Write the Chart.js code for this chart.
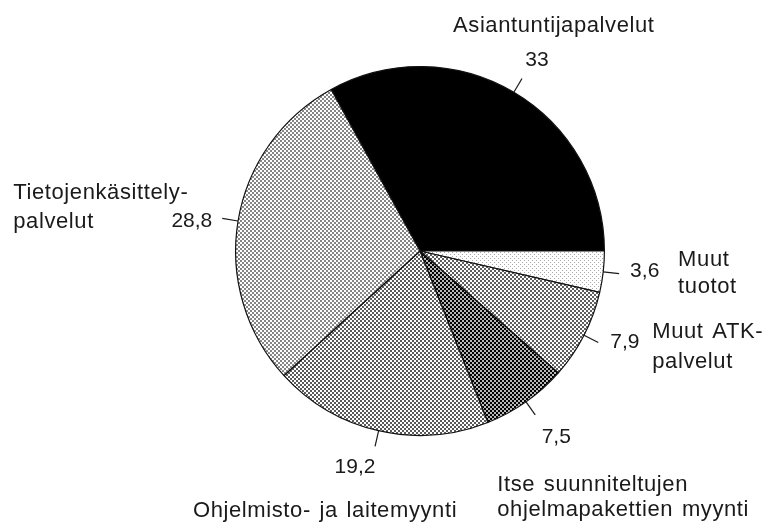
<!DOCTYPE html>
<html>
<head>
<meta charset="utf-8">
<script src="https://cdn.jsdelivr.net/npm/chart.js@4"></script>
<style>
  html, body { margin: 0; padding: 0; background: #fff; }
  #wrap { width: 765px; height: 526px; position: relative; }
</style>
</head>
<body>
<div id="wrap"><canvas id="chart"></canvas></div>
<script>
// Liikevaihdon jakauma, %
const tuotteet = [
  ['Asiantuntijapalvelut'],
  ['Muut', 'tuotot'],
  ['Muut ATK-', 'palvelut'],
  ['Itse suunniteltujen', 'ohjelmapakettien myynti'],
  ['Ohjelmisto- ja laitemyynti'],
  ['Tietojenkäsittely-', 'palvelut'],
];
const osuudet = [33, 3.6, 7.9, 7.5, 19.2, 28.8];

// rasterikuviot sektoreille
function rasteri(pohja, muste, koko) {
  const c = document.createElement('canvas');
  c.width = 4; c.height = 4;
  const g = c.getContext('2d');
  g.fillStyle = pohja;
  g.fillRect(0, 0, 4, 4);
  g.fillStyle = muste;
  g.fillRect(0, 0, koko, koko);
  g.fillRect(2, 2, koko, koko);
  return g.createPattern(c, 'repeat');
}

const tayttot = [
  '#000000',
  rasteri('#ffffff', '#a8a8a8', 1),
  rasteri('#ffffff', '#5e5e5e', 2),
  rasteri('#b8b8b8', '#000000', 2),
  rasteri('#ffffff', '#5a5a5a', 2),
  rasteri('#ffffff', '#858585', 2),
];

// tekstien sijoittelu suhteessa viivan päähän: [dx, dy, tasaus]
const sijoittelu = [
  { arvo: [15, -18, 'center'], nimi: [-69, -53, 'left'], rivi: 28 },
  { arvo: [11, -2, 'left'],    nimi: [59, -14, 'left'],  rivi: 27 },
  { arvo: [12, 0, 'left'],     nimi: [54, -11, 'left'],  rivi: 30 },
  { arvo: [21, 22, 'center'],  nimi: [-38, 70, 'left'],  rivi: 25 },
  { arvo: [-20, 21, 'center'], nimi: [-50, 65, 'center'], rivi: 28 },
  { arvo: [-10, 3, 'right'],   nimi: [-209, -25, 'left'], rivi: 29 },
];

const selitteet = {
  id: 'selitteet',
  afterDatasetsDraw(chart) {
    const ctx = chart.ctx;
    const meta = chart.getDatasetMeta(0);
    ctx.save();
    ctx.fillStyle = '#1a1a1a';
    ctx.strokeStyle = '#1a1a1a';
    ctx.lineWidth = 1.2;
    ctx.textBaseline = 'middle';
    meta.data.forEach((arc, i) => {
      const { x, y, startAngle, endAngle, outerRadius } =
        arc.getProps(['x', 'y', 'startAngle', 'endAngle', 'outerRadius'], true);
      const kulma = (startAngle + endAngle) / 2;
      const x0 = x + Math.cos(kulma) * outerRadius;
      const y0 = y + Math.sin(kulma) * outerRadius;
      const x1 = x + Math.cos(kulma) * (outerRadius + 16);
      const y1 = y + Math.sin(kulma) * (outerRadius + 16);
      ctx.beginPath();
      ctx.moveTo(x0, y0);
      ctx.lineTo(x1, y1);
      ctx.stroke();

      const s = sijoittelu[i];
      ctx.font = '21px "Liberation Sans", Arial, sans-serif';
      ctx.letterSpacing = '0px';
      ctx.wordSpacing = '0px';
      ctx.textAlign = s.arvo[2];
      ctx.fillText(String(osuudet[i]).replace('.', ','), x1 + s.arvo[0], y1 + s.arvo[1]);

      ctx.font = '22px "Liberation Sans", Arial, sans-serif';
      ctx.letterSpacing = '0.6px';
      ctx.wordSpacing = '2px';
      ctx.textAlign = s.nimi[2];
      tuotteet[i].forEach((teksti, r) => {
        ctx.fillText(teksti, x1 + s.nimi[0], y1 + s.nimi[1] + r * s.rivi);
      });
    });
    ctx.restore();
  },
};

new Chart(document.getElementById('chart'), {
  type: 'pie',
  data: {
    labels: tuotteet.map(t => t.join(' ')),
    datasets: [{
      data: osuudet,
      backgroundColor: tayttot,
      borderColor: '#111111',
      borderWidth: 1.2,
    }],
  },
  options: {
    responsive: true,
    maintainAspectRatio: false,
    animation: false,
    rotation: -28.8,
    layout: { padding: { left: 235, right: 160, top: 66, bottom: 90 } },
    plugins: {
      legend: { display: false },
      tooltip: { enabled: false },
    },
  },
  plugins: [selitteet],
});
</script>
</body>
</html>
